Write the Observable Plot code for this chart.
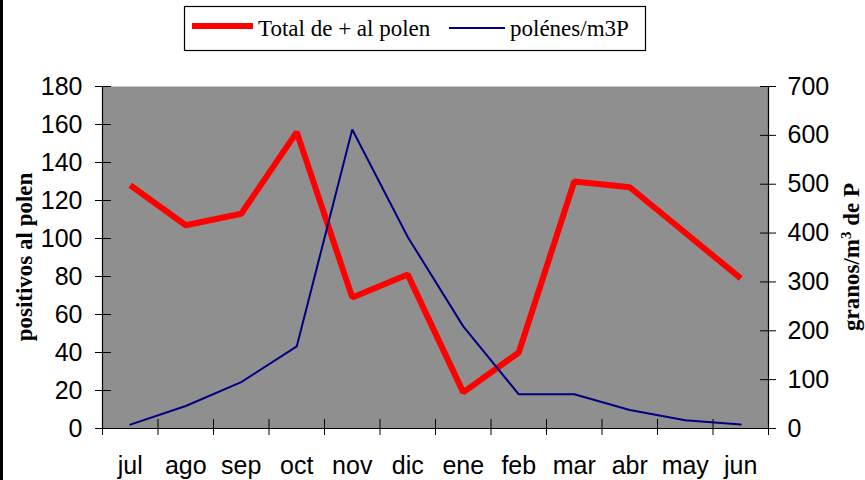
<!DOCTYPE html>
<html><head><meta charset="utf-8">
<script src="https://cdn.jsdelivr.net/npm/d3@7"></script>
<script src="https://cdn.jsdelivr.net/npm/@observablehq/plot@0.6"></script>
<style>
html,body{margin:0;padding:0;background:#fff;}
#wrap{position:relative;width:865px;height:480px;overflow:hidden;}
#bar{position:absolute;left:0;top:0;width:3px;height:480px;background:#000;}
#wrap svg{position:absolute;left:0;top:0;}
</style></head><body><div id="wrap"></div>
<script>
// ---- data ----
const months = ["jul","ago","sep","oct","nov","dic","ene","feb","mar","abr","may","jun"];
const totalPositivos = [128,107,113,156,69,81,19,40,130,127,103,79];
const polenesM3 = [8,46,95,168,612,392,209,70,70,38,17,8];
const leftTicks = [0,20,40,60,80,100,120,140,160,180];
const rightTicks = [0,100,200,300,400,500,600,700];
const seriesNames = ["Total de + al polen","polénes/m3P"];
const leftTitle = "positivos al polen";

const leftMax = 180, rightMax = 700;
const k = leftMax / rightMax;
const rows = months.map((m, i) => ({i, month: m, total: totalPositivos[i], pol: polenesM3[i]}));
const idx = months.map((m, i) => i);
const bounds = d3.range(-0.5, months.length, 1);

const sans = "'Liberation Sans', Arial, sans-serif";
const serif = "'Liberation Serif', 'Times New Roman', serif";

const chart = Plot.plot({
  width: 865, height: 480,
  marginLeft: 102, marginRight: 97, marginTop: 86, marginBottom: 52,
  style: {fontFamily: sans, background: "transparent", color: "#000"},
  x: {type: "linear", domain: [-0.5, months.length - 0.5]},
  y: {domain: [0, leftMax]},
  marks: [
    Plot.frame({fill: "#8f8f8f", stroke: null}),
    // left axis
    Plot.axisY(leftTicks, {anchor: "left", tickSize: 16, dx: 9, fill: "none", label: null, stroke: "#000"}),
    Plot.axisY(leftTicks, {anchor: "left", tickSize: 0, tickPadding: 20, label: null, fontSize: 25, fill: "#000"}),
    // right axis (second series scaled onto the left scale)
    Plot.axisY(rightTicks.map(v => v * k), {anchor: "right", tickSize: 16, dx: -9, fill: "none", label: null, stroke: "#000"}),
    Plot.axisY(rightTicks.map(v => v * k), {anchor: "right", tickSize: 0, tickPadding: 19, label: null, fontSize: 25, fill: "#000", tickFormat: d => String(Math.round(d / k))}),
    // bottom axis
    Plot.axisX(bounds, {anchor: "bottom", tickSize: 16, dy: -9, fill: "none", label: null, stroke: "#000"}),
    Plot.axisX(idx, {anchor: "bottom", tickSize: 0, tickPadding: 28, label: null, fontSize: 25, fill: "#000", tickFormat: i => months[i]}),
    Plot.ruleX([-0.5, months.length - 0.5], {stroke: "#000", strokeWidth: 1.2}),
    Plot.ruleY([0], {stroke: "#000", strokeWidth: 1.2}),
    // series
    Plot.line(rows, {x: "i", y: "total", stroke: "#ff0000", strokeWidth: 6, strokeLinejoin: "miter", strokeLinecap: "butt"}),
    Plot.line(rows, {x: "i", y: d => d.pol * k, stroke: "#000080", strokeWidth: 2, strokeLinejoin: "miter"})
  ]
});

const wrap = document.getElementById("wrap");
wrap.appendChild(chart);
const bar = document.createElement("div"); bar.id = "bar"; wrap.appendChild(bar);

const svg = d3.select(chart);
// axis titles
svg.append("text")
  .attr("transform", "translate(32,257) rotate(-90)")
  .attr("text-anchor", "middle")
  .attr("font-family", serif).attr("font-weight", "bold").attr("font-size", 23)
  .attr("fill", "#000")
  .text(leftTitle);
const rt = svg.append("text")
  .attr("transform", "translate(859,257) rotate(-90)")
  .attr("text-anchor", "middle")
  .attr("font-family", serif).attr("font-weight", "bold").attr("font-size", 23)
  .attr("fill", "#000");
rt.append("tspan").text("granos/m");
rt.append("tspan").attr("dy", "-0.55em").attr("font-size", 15).text("3");
rt.append("tspan").attr("dy", "0.36em").text(" de P");

// legend
const lg = svg.append("g").attr("text-anchor", "start");
lg.append("rect").attr("x", 184.5).attr("y", 6.5).attr("width", 461).attr("height", 44)
  .attr("fill", "#fff").attr("stroke", "#000").attr("stroke-width", 1.2);
const legendItems = [
  {name: seriesNames[0], color: "#ff0000", w: 6, x1: 192, x2: 253, ly: 26, tx: 258},
  {name: seriesNames[1], color: "#000080", w: 2, x1: 449, x2: 505, ly: 28, tx: 510}
];
for (const it of legendItems) {
  lg.append("line").attr("x1", it.x1).attr("x2", it.x2).attr("y1", it.ly).attr("y2", it.ly)
    .attr("stroke", it.color).attr("stroke-width", it.w);
  lg.append("text").attr("x", it.tx).attr("y", 36).attr("text-anchor", "start")
    .attr("font-family", serif).attr("font-size", 23)
    .attr("fill", "#000").text(it.name);
}
</script></body></html>
